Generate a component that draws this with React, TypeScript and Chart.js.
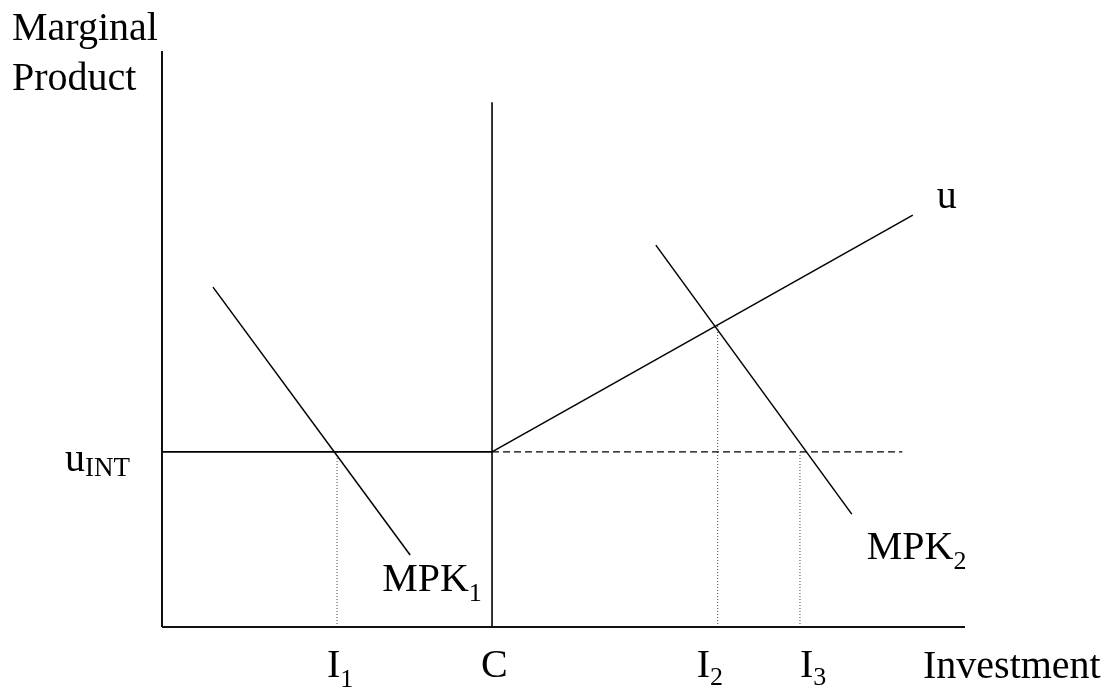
import { useEffect, useRef } from "react";
import { Chart, registerables } from "chart.js";

Chart.register(...registerables);

// Axis extents (data units)
const X_MAX = 100;
const Y_MAX = 100;

// Key investment levels on the x axis
const TICK_NAMES = ["I", "C", "I", "I"];
const TICK_SUBS = ["1", "", "2", "3"];
const TICK_VALUES = [21.8, 41.1, 69.2, 79.45];

// Interest-rate / marginal product levels
const U_INT = 30.4;
const C_TOP = 91.1;
const DASH_END_X = 92.2;
const U_LINE_END = { x: 93.5, y: 71.5 };
const U_AT_I2 = 52.4;

// MPK curves (two end points each)
const MPK1_X = [6.35, 30.9];
const MPK1_Y = [59.0, 12.5];
const MPK2_X = [61.5, 85.9];
const MPK2_Y = [66.3, 19.6];

const FONT = "'Liberation Serif', 'Times New Roman', serif";

function seg(data: { x: number; y: number }[], width: number, color: string, dash: number[] = []) {
  return {
    data,
    borderColor: color,
    borderWidth: width,
    borderDash: dash,
    pointRadius: 0,
    showLine: true,
    fill: false,
    tension: 0,
    clip: false as const,
  };
}

export default function App() {
  const ref = useRef<HTMLCanvasElement | null>(null);

  useEffect(() => {
    if (!ref.current) return;
    const [I1, C, I2, I3] = TICK_VALUES;

    const labelsPlugin = {
      id: "econLabels",
      afterDraw(chart: any) {
        const ctx = chart.ctx as CanvasRenderingContext2D;
        const xs = chart.scales.x;
        const ys = chart.scales.y;
        const px = (v: number) => xs.getPixelForValue(v);
        const py = (v: number) => ys.getPixelForValue(v);
        ctx.save();
        ctx.fillStyle = "#000";
        ctx.textBaseline = "alphabetic";
        ctx.textAlign = "left";
        const draw = (main: string, sub: string, x: number, y: number, subDy = 10, subSize = 26) => {
          ctx.font = `40px ${FONT}`;
          ctx.fillText(main, x, y);
          const w = ctx.measureText(main).width;
          if (sub) {
            ctx.font = `${subSize}px ${FONT}`;
            ctx.fillText(sub, x + w, y + subDy);
          }
        };
        // axis titles
        draw("Marginal", "", px(0) - 150, py(Y_MAX) - 11);
        draw("Product", "", px(0) - 150, py(Y_MAX) + 39);
        draw("Investment", "", px(X_MAX) - 42, py(0) + 51);
        // u_INT
        draw("u", "INT", px(0) - 97, py(U_INT) + 19, 5, 27);
        // curve labels
        draw("u", "", px(U_LINE_END.x) + 24, py(U_LINE_END.y) - 7);
        draw("MPK", "1", px(MPK1_X[1]) - 28, py(MPK1_Y[1]) + 36);
        draw("MPK", "2", px(MPK2_X[1]) + 15, py(MPK2_Y[1]) + 45);
        // x tick labels
        const offs = [-10, -11, -21, 0];
        const subDy = [10, 0, 8, 8];
        TICK_VALUES.forEach((v, i) => {
          draw(TICK_NAMES[i], TICK_SUBS[i], px(v) + offs[i], py(0) + 50, subDy[i]);
        });
        ctx.restore();
      },
    };

    const black = "#000";
    const dot = "#444";
    const chart = new Chart(ref.current, {
      type: "scatter",
      data: {
        datasets: [
          seg([{ x: 0, y: 0 }, { x: X_MAX, y: 0 }], 2, "#111"),
          seg([{ x: 0, y: 0 }, { x: 0, y: Y_MAX }], 2, "#111"),
          seg([{ x: C, y: 0 }, { x: C, y: C_TOP }], 1.6, black),
          seg([{ x: 0, y: U_INT }, { x: C, y: U_INT }], 1.6, black),
          seg([{ x: C, y: U_INT }, { x: DASH_END_X, y: U_INT }], 1.3, black, [7, 4]),
          seg([{ x: C, y: U_INT }, U_LINE_END], 1.5, black),
          seg([{ x: MPK1_X[0], y: MPK1_Y[0] }, { x: MPK1_X[1], y: MPK1_Y[1] }], 1.5, black),
          seg([{ x: MPK2_X[0], y: MPK2_Y[0] }, { x: MPK2_X[1], y: MPK2_Y[1] }], 1.5, black),
          seg([{ x: I1, y: 0 }, { x: I1, y: U_INT }], 1, dot, [1, 2]),
          seg([{ x: I2, y: 0 }, { x: I2, y: U_AT_I2 }], 1, dot, [1, 2]),
          seg([{ x: I3, y: 0 }, { x: I3, y: U_INT }], 1, dot, [1, 2]),
        ] as any,
      },
      options: {
        animation: false,
        responsive: false,
        devicePixelRatio: 1,
        layout: { padding: { left: 162, right: 150, top: 51, bottom: 67 } },
        scales: {
          x: { type: "linear", min: 0, max: X_MAX, display: false },
          y: { type: "linear", min: 0, max: Y_MAX, display: false },
        },
        plugins: { legend: { display: false }, tooltip: { enabled: false } },
        events: [],
      },
      plugins: [labelsPlugin],
    });
    return () => chart.destroy();
  }, []);

  return (
    <div style={{ position: "fixed", left: 0, top: 0, width: 1115, height: 694, background: "#fff" }}>
      <canvas ref={ref} width={1115} height={694} style={{ display: "block" }} />
    </div>
  );
}
